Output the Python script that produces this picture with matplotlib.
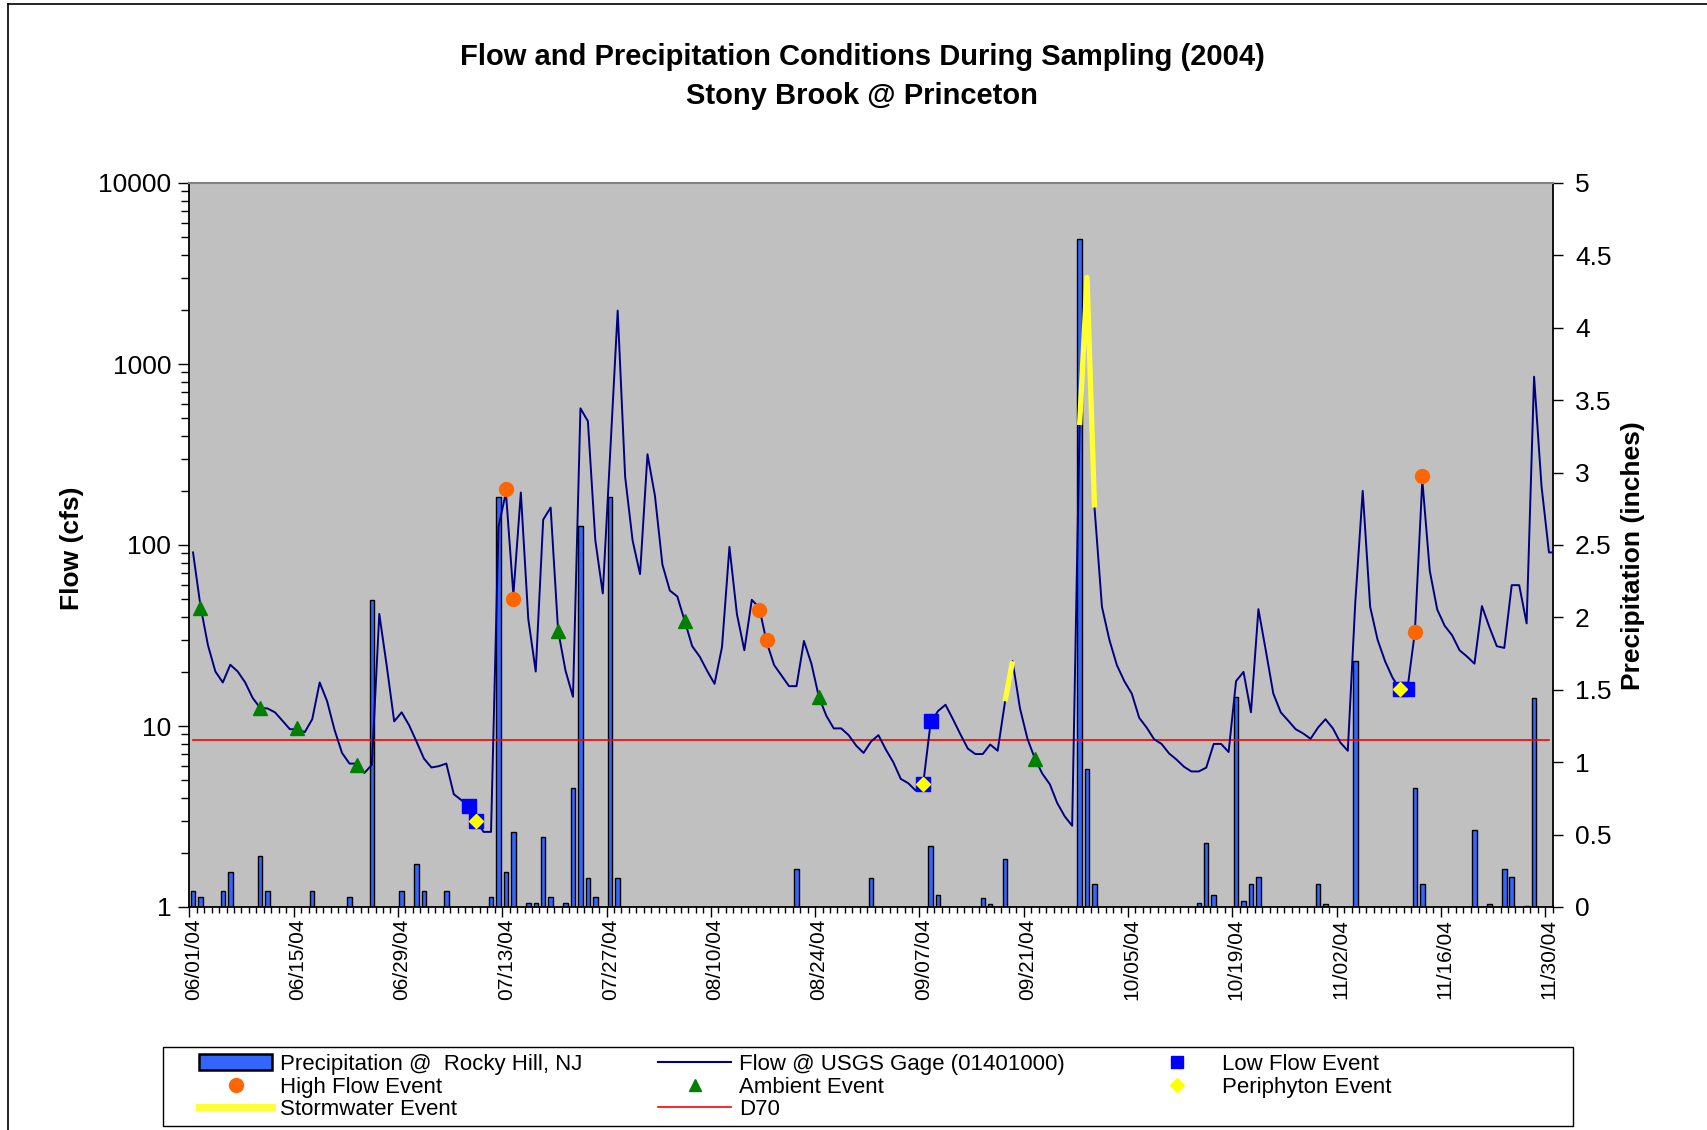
import numpy as np
import matplotlib
matplotlib.use('Agg')
import matplotlib.pyplot as plt
from matplotlib.lines import Line2D
from matplotlib.patches import Rectangle
from matplotlib.ticker import FixedLocator, FuncFormatter, NullFormatter
import matplotlib.transforms as mtransforms

plt.rcParams['font.family'] = ['Liberation Sans', 'DejaVu Sans']

# ---------------- data ----------------
START = np.datetime64('2004-06-01')

# daily mean flow (cfs), 06/01/04 .. 12/01/04
flow_cfs = [
    91, 46, 28, 20, 17.4, 21.8, 20, 17.4, 14.3, 12.6,
    12.5, 11.9, 10.7, 9.6, 9.6, 9.25, 10.9, 17.4, 13.7, 9.5,
    7.1, 6.2, 6.2, 5.5, 6.1, 41.6, 21.5, 10.6, 11.9, 10.1,
    8.2, 6.6, 5.9, 6.0, 6.2, 4.2, 3.9, 3.6, 3.0, 2.6,
    2.6, 126, 195, 53, 195, 39, 20, 138, 161, 33.7,
    20.2, 14.5, 569, 483, 106, 54, 330, 1972, 238, 106,
    69, 317, 187, 78, 56, 52, 38, 27.6, 24.2, 20.2,
    17.1, 27.3, 97.7, 41.6, 26.2, 49.8, 45, 29, 21.7, 19,
    16.6, 16.6, 29.5, 22.1, 14.5, 11.4, 9.7, 9.7, 8.9, 7.8,
    7.1, 8.2, 8.9, 7.4, 6.3, 5.1, 4.83, 4.4, 4.77, 10.4,
    12.1, 13.1, 10.9, 9.0, 7.5, 7.0, 7.0, 7.9, 7.3, 13.7,
    22.8, 12.5, 8.5, 6.6, 5.45, 4.77, 3.75, 3.17, 2.81, 460,
    3006, 161, 45.5, 29.9, 21.7, 17.7, 15.1, 11.1, 9.8, 8.45,
    7.96, 7.06, 6.53, 5.96, 5.61, 5.61, 5.89, 7.96, 7.96, 7.18,
    17.7, 19.9, 11.9, 44.2, 26, 15.1, 11.9, 10.7, 9.6, 9.1,
    8.5, 9.8, 10.9, 9.7, 8.1, 7.3, 48, 199, 45.5, 29.9,
    22.8, 18.5, 15.9, 16, 33, 228, 72, 44, 35.8, 31.7,
    26.2, 24.2, 22.1, 46, 35.2, 27.6, 27, 60, 60, 36.9,
    851, 211, 91, 91,
]

precip_dates = [
    '2004-06-01', '2004-06-02', '2004-06-05', '2004-06-06', '2004-06-10',
    '2004-06-11', '2004-06-17', '2004-06-22', '2004-06-25', '2004-06-29',
    '2004-07-01', '2004-07-02', '2004-07-05', '2004-07-11', '2004-07-12',
    '2004-07-13', '2004-07-14', '2004-07-16', '2004-07-17', '2004-07-18',
    '2004-07-19', '2004-07-21', '2004-07-22', '2004-07-23', '2004-07-24',
    '2004-07-25', '2004-07-27', '2004-07-28', '2004-08-21', '2004-08-31',
    '2004-09-08', '2004-09-09', '2004-09-15', '2004-09-16', '2004-09-18',
    '2004-09-28', '2004-09-29', '2004-09-30', '2004-10-14', '2004-10-15',
    '2004-10-16', '2004-10-19', '2004-10-20', '2004-10-21', '2004-10-22',
    '2004-10-30', '2004-10-31', '2004-11-04', '2004-11-12', '2004-11-13',
    '2004-11-20', '2004-11-22', '2004-11-24', '2004-11-25', '2004-11-27',
    '2004-11-28',
]
precip_in = [
    0.11, 0.07, 0.11, 0.24, 0.35,
    0.11, 0.11, 0.07, 2.12, 0.11,
    0.30, 0.11, 0.11, 0.07, 2.83,
    0.24, 0.52, 0.03, 0.03, 0.48,
    0.07, 0.03, 0.82, 2.63, 0.20,
    0.07, 2.83, 0.20, 0.26, 0.20,
    0.42, 0.08, 0.06, 0.02, 0.33,
    4.61, 0.95, 0.16, 0.03, 0.44,
    0.08, 1.45, 0.04, 0.16, 0.21,
    0.16, 0.02, 1.70, 0.82, 0.16,
    0.53, 0.02, 0.26, 0.21, 0.01,
    1.44,
]

low_dates = ['2004-07-08', '2004-07-09', '2004-09-07', '2004-09-08', '2004-11-10', '2004-11-11']
low_cfs = [3.6, 3.0, 4.8, 10.7, 16, 16]

high_dates = ['2004-07-13', '2004-07-14', '2004-08-16', '2004-08-17', '2004-11-12', '2004-11-13']
high_cfs = [205, 50, 44, 30, 33, 242]

ambient_dates = ['2004-06-02', '2004-06-10', '2004-06-15', '2004-06-23',
                 '2004-07-20', '2004-08-06', '2004-08-24', '2004-09-22']
ambient_cfs = [45, 12.5, 9.7, 6.1, 33.5, 38, 14.4, 6.6]

periphyton_dates = ['2004-07-09', '2004-09-07', '2004-11-10']
periphyton_cfs = [3.0, 4.8, 16]

storm_dates = ['2004-09-18', '2004-09-19', None, '2004-09-28', '2004-09-29', '2004-09-30']
storm_cfs = [13.7, 22.8, np.nan, 460, 3006, 161]

d70_cfs = 8.35

tick_dates = ['2004-06-01', '2004-06-15', '2004-06-29', '2004-07-13', '2004-07-27',
              '2004-08-10', '2004-08-24', '2004-09-07', '2004-09-21', '2004-10-05',
              '2004-10-19', '2004-11-02', '2004-11-16', '2004-11-30']
tick_labels = ['06/01/04', '06/15/04', '06/29/04', '07/13/04', '07/27/04',
               '08/10/04', '08/24/04', '09/07/04', '09/21/04', '10/05/04',
               '10/19/04', '11/02/04', '11/16/04', '11/30/04']


def day_index(dates):
    out = []
    for d in dates:
        if d is None:
            out.append(np.nan)
        else:
            out.append(float((np.datetime64(d) - START).astype(int)))
    return np.array(out)


def center(dates):
    return day_index(dates) + 0.5


# ---------------- figure ----------------
W, H = 1707, 1130
fig = plt.figure(figsize=(W / 100, H / 100), dpi=100)

L, R, T, B = 189.3, 1552.7, 183.0, 907.0
ax = fig.add_axes([L / W, 1 - B / H, (R - L) / W, (B - T) / H])
ax2 = ax.twinx()
ax.set_zorder(ax2.get_zorder() + 1)
ax.patch.set_visible(False)
ax2.patch.set_visible(True)
ax2.set_facecolor('#C0C0C0')

flow_x = np.arange(len(flow_cfs)) + 0.5
n_days = 183

# precipitation bars (secondary axis)
ax2.bar(center(precip_dates), precip_in, width=0.6, color='#3366FF',
        edgecolor='black', linewidth=1.0, zorder=2)

# flow + reference lines
ax.plot(flow_x[:n_days], [d70_cfs] * n_days, color='#FF0000', lw=1.2, zorder=3)
ax.plot(flow_x, flow_cfs, color='#000080', lw=1.4, zorder=4)
ax.plot(center(storm_dates), storm_cfs, color='#FFFF33', lw=3.8,
        solid_capstyle='butt', zorder=5)

ax.plot(center(low_dates), low_cfs, ls='none', marker='s', ms=10,
        color='#0000FF', mec='#0000FF', zorder=6)
ax.plot(center(periphyton_dates), periphyton_cfs, ls='none', marker='D', ms=7,
        color='#FFFF00', mec='#FFFF00', zorder=7)
ax.plot(center(high_dates), high_cfs, ls='none', marker='o', ms=10,
        color='#FF6600', mec='#FF6600', zorder=6)
ax.plot(center(ambient_dates), ambient_cfs, ls='none', marker='^', ms=10,
        color='#008000', mec='#008000', zorder=6)

# ---- axes ----
ax.set_xlim(0, n_days)
ax.set_yscale('log')
ax.set_ylim(1, 10000)
ax.yaxis.set_major_locator(FixedLocator([1, 10, 100, 1000, 10000]))
ax.yaxis.set_major_formatter(FuncFormatter(lambda v, p: f'{v:.0f}'))
minor = []
for dec in [1, 10, 100, 1000]:
    for s in range(2, 10):
        minor.append(dec * s)
ax.yaxis.set_minor_locator(FixedLocator(minor))
ax.yaxis.set_minor_formatter(NullFormatter())

ax.xaxis.set_major_locator(FixedLocator(day_index(tick_dates)))
ax.set_xticklabels(tick_labels, rotation=90, ha='center', va='top', fontsize=15)
ax.xaxis.set_minor_locator(FixedLocator(np.arange(0, n_days + 1)))

ax2.set_ylim(0, 5)
ax2.yaxis.set_major_locator(FixedLocator(np.arange(0, 5.01, 0.5)))
ax2.yaxis.set_major_formatter(FuncFormatter(lambda v, p: f'{v:g}'))

ax.tick_params(axis='y', which='major', direction='out', length=8, width=1,
               labelsize=19, pad=5)
ax.tick_params(axis='y', which='minor', direction='out', length=6, width=1)
ax.tick_params(axis='x', which='major', direction='out', length=7, width=1, pad=1.5)
ax.tick_params(axis='x', which='minor', direction='out', length=4, width=1)
ax2.tick_params(axis='y', which='major', direction='out', length=7, width=1,
                labelsize=19, pad=9)

# shift x tick labels slightly right like the original
offset = mtransforms.ScaledTranslation(4 / 100, 0, fig.dpi_scale_trans)
for lab in ax.get_xticklabels():
    lab.set_transform(lab.get_transform() + offset)

for sp in ['left', 'bottom']:
    ax.spines[sp].set_color('black')
    ax.spines[sp].set_linewidth(1.3)
ax.spines['right'].set_visible(False)
ax.spines['top'].set_color('#808080')
ax.spines['top'].set_linewidth(1.5)
for sp in ['left', 'bottom', 'top']:
    ax2.spines[sp].set_visible(False)
ax2.spines['right'].set_color('black')
ax2.spines['right'].set_linewidth(1.3)

# ---- texts ----
fig.text(862 / W, 1 - 57 / H, 'Flow and Precipitation Conditions During Sampling (2004)',
         ha='center', va='center', fontsize=21, fontweight='bold')
fig.text(862 / W, 1 - 96 / H, 'Stony Brook @ Princeton',
         ha='center', va='center', fontsize=21, fontweight='bold')
fig.text(72 / W, 1 - 548 / H, 'Flow (cfs)', rotation=90, ha='center', va='center',
         fontsize=19, fontweight='bold')
fig.text(1633 / W, 1 - 556 / H, 'Precipitation (inches)', rotation=90, ha='center',
         va='center', fontsize=19, fontweight='bold')

# ---- legend ----
h_precip = Rectangle((0, 0), 1, 1, facecolor='#3366FF', edgecolor='black', lw=1.8)
h_flow = Line2D([], [], color='#000080', lw=1.5)
h_low = Line2D([], [], ls='none', marker='s', ms=9, color='#0000FF')
h_high = Line2D([], [], ls='none', marker='o', ms=10, color='#FF6600')
h_amb = Line2D([], [], ls='none', marker='^', ms=9, color='#008000')
h_peri = Line2D([], [], ls='none', marker='D', ms=7, color='#FFFF00')
h_storm = Line2D([], [], color='#FFFF33', lw=5)
h_d70 = Line2D([], [], color='#FF0000', lw=1.2)

handles = [h_precip, h_high, h_storm, h_flow, h_amb, h_d70, h_low, h_peri]
labels = ['Precipitation @  Rocky Hill, NJ', 'High Flow Event', 'Stormwater Event',
          'Flow @ USGS Gage (01401000)', 'Ambient Event', 'D70',
          'Low Flow Event', 'Periphyton Event']
fig.legend(handles, labels, ncol=3, loc='upper left',
           bbox_to_anchor=(199 / W, 1 - 1054 / H), frameon=False, fontsize=16,
           handlelength=3.3, handletextpad=0.35, columnspacing=3.4,
           labelspacing=0.07, borderpad=0, borderaxespad=0)
fig.add_artist(Rectangle((163 / W, 1 - 1126 / H), (1573 - 163) / W, (1126 - 1047) / H,
                         transform=fig.transFigure, fill=False, edgecolor='black', lw=1))

# outer chart border (top and left)
fig.add_artist(Line2D([8 / W, 1], [1 - 4 / H, 1 - 4 / H], transform=fig.transFigure,
                      color='black', lw=1.2))
fig.add_artist(Line2D([8 / W, 8 / W], [0, 1 - 4 / H], transform=fig.transFigure,
                      color='black', lw=1.2))

fig.savefig('out.png', dpi=100)
